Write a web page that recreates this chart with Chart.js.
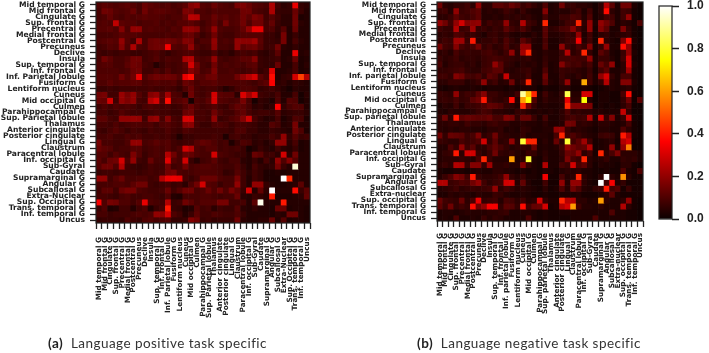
<!DOCTYPE html>
<html><head><meta charset="utf-8">
<script src="https://cdn.jsdelivr.net/npm/chart.js@4/dist/chart.umd.min.js"></script>
<style>
html,body{margin:0;padding:0;background:#fff;width:709px;height:353px;overflow:hidden}
.c{position:absolute;top:0}
canvas{filter:blur(.4px)}
.cap{position:absolute;top:335px;font:13.5px Lato,'Noto Sans',sans-serif;color:#333;white-space:nowrap;letter-spacing:.45px}
.cap b{color:#222}
</style></head><body>
<div class="c" style="left:0;width:330px;height:353px"><canvas id="left"></canvas></div>
<div class="c" style="left:340px;width:310px;height:353px"><canvas id="right"></canvas></div>
<div class="c" style="left:650px;width:59px;height:240px"><canvas id="bar"></canvas></div>
<div class="cap" style="left:48px"><b>(a)</b>&nbsp; Language positive task specific</div>
<div class="cap" style="left:417px"><b>(b)</b>&nbsp; Language negative task specific</div>
<script>
const leftLabels=["Mid temporal G","Mid frontal G","Cingulate G","Sup. frontal G","Precentral G","Medial frontal G","Postcentral G","Precuneus","Declive","Insula","Sup. temporal G","Inf. frontal G","Inf. Parietal lobule","Fusiform G","Lentiform nucleus","Cuneus","Mid occipital G","Culmen","Parahippocampal G","Sup. Parietal lobule","Thalamus","Anterior cingulate","Posterior cingulate","Lingual G","Claustrum","Paracentral lobule","Inf. occipital G","Sub-Gyral","Caudate","Supramarginal G","Angular G","Subcallosal G","Extra-Nuclear","Sup. Occipital G","Trans. temporal G","Inf. temporal G","Uncus"];
const rightLabels=["Mid temporal G","Mid frontal G","Cingulate G","Sup. frontal G","Precentral G","Medial frontal G","Postcentral G","Precuneus","Declive","Insula","Sup. temporal G","Inf. frontal G","Inf. parietal lobule","Fusiform G","Lentiform nucleus","Cuneus","Mid occipital G","Culmen","Parahippocampal G","Sup. parietal lobule","Thalamus","Anterior cingulate","Posterior cingulate","Lingual G","Claustrum","Paracentral lobule","Inf. occipital G","Sub-Gyral","Caudate","Supramarginal G","Angular G","Subcallosal G","Extra-nuclear","Sup. occipital G","Trans. temporal G","Inf. temporal G","Uncus"];
const colorbarTicks=[0,0.2,0.4,0.6,0.8,1];
// values in hundredths, one row per region
const leftValues=[
[10,12,11,10,11,12,11,9,14,12,11,10,11,9,10,12,18,20,11,10,14,11,10,9,16,17,14,11,10,9,24,8,5,6,33,6,5],
[9,15,14,11,10,11,14,9,15,11,12,12,11,10,9,17,16,10,10,9,11,10,10,10,10,15,15,10,9,8,24,7,6,6,14,7,4],
[9,10,13,10,9,11,10,11,12,11,11,10,9,10,10,14,26,25,10,10,14,11,12,10,11,15,12,17,15,8,11,8,5,5,15,3,4],
[10,11,10,27,12,11,11,9,10,10,11,9,10,9,11,11,12,10,8,10,13,9,16,10,11,15,10,15,15,9,13,7,5,5,15,5,4],
[11,11,12,10,18,10,20,20,10,11,10,10,9,11,10,20,20,18,9,11,20,10,9,9,10,13,20,33,33,9,10,6,11,4,14,4,4],
[9,9,9,10,12,11,11,10,9,9,9,9,10,9,10,13,14,10,7,9,15,9,8,8,10,11,11,11,11,7,7,5,16,4,7,4,4],
[10,11,12,11,20,11,8,24,9,14,15,14,15,14,12,18,17,8,10,10,20,9,10,9,20,19,19,22,12,7,7,6,16,4,9,5,4],
[8,9,11,10,18,10,24,10,9,14,15,15,35,11,10,12,20,10,8,9,19,9,9,8,20,12,14,15,11,7,8,15,5,4,6,4,4],
[8,7,8,7,8,8,7,7,8,9,10,8,6,8,9,10,10,8,7,7,10,6,7,5,8,9,8,9,6,5,7,12,4,4,33,4,5],
[9,15,12,9,9,11,15,15,8,9,11,8,10,9,9,24,25,10,9,10,20,9,8,9,10,12,12,18,7,6,7,8,4,5,14,3,4],
[10,11,11,9,9,12,15,14,9,8,4,7,9,8,9,12,30,15,9,8,15,9,10,9,10,9,11,12,7,6,6,14,4,4,9,3,5],
[10,10,10,10,9,10,14,15,8,8,10,8,11,8,9,11,18,14,9,10,17,9,9,10,9,8,9,11,6,8,32,4,4,5,9,3,4],
[11,11,11,10,15,11,15,33,10,13,15,14,15,14,11,33,38,12,11,14,15,10,10,10,15,20,25,30,12,9,38,4,6,7,30,46,25],
[10,10,12,10,11,11,12,12,9,10,11,10,10,11,8,14,12,9,11,11,12,10,10,10,10,10,9,8,10,12,36,5,6,4,6,5,4],
[7,7,8,7,8,8,8,8,8,9,8,8,9,8,6,10,14,9,8,9,9,7,4,6,9,10,10,9,6,7,8,6,4,2,5,4,4],
[15,16,8,8,21,16,20,11,8,18,20,11,22,10,9,4,15,9,8,10,30,12,11,11,5,31,22,30,8,7,6,9,4,4,9,2,5],
[14,13,30,8,20,17,20,9,8,25,30,10,38,10,11,13,2,10,9,12,30,11,10,9,10,16,9,2,6,5,3,10,4,11,10,2,4],
[8,10,8,10,9,10,9,7,9,10,9,8,9,7,8,11,14,10,8,9,11,8,7,10,13,12,9,5,6,4,6,36,6,9,11,10,4],
[9,9,7,8,11,9,8,8,7,8,9,8,8,7,7,14,15,9,9,8,15,10,8,8,11,13,9,7,8,8,7,11,5,6,7,7,5],
[12,12,9,8,20,20,21,20,8,19,21,9,18,9,8,31,30,9,9,8,20,7,8,10,12,18,29,9,6,4,5,9,3,5,10,9,3],
[9,9,8,10,8,9,10,10,9,10,8,10,11,9,8,18,19,9,7,7,10,10,9,7,9,9,8,7,5,5,11,9,4,5,16,4,4],
[8,7,9,11,9,7,9,8,7,9,8,8,10,8,7,10,9,8,8,8,8,8,8,7,10,10,7,7,5,5,7,6,5,4,15,10,3],
[9,9,10,8,8,10,9,10,8,8,9,8,9,7,3,7,7,8,8,8,9,8,3,8,9,7,7,5,6,6,9,7,20,6,11,7,8],
[16,9,9,8,8,10,20,20,9,10,12,10,11,8,7,8,8,11,13,12,10,8,9,3,7,10,9,5,6,4,6,20,20,5,9,3,4],
[14,12,11,8,9,9,11,11,8,9,10,9,11,8,10,30,25,10,9,11,11,8,9,8,9,7,2,4,7,5,4,8,5,4,7,3,4],
[11,11,8,11,9,8,17,11,7,9,10,9,25,15,9,14,13,10,9,9,30,10,9,8,7,7,4,14,12,7,8,5,30,5,15,4,4],
[12,9,14,15,30,10,20,8,7,14,9,9,32,11,9,30,7,4,8,9,12,8,7,9,9,5,4,7,4,9,5,20,10,18,11,4,4],
[11,15,15,10,25,8,7,6,7,9,8,8,15,8,9,15,9,10,11,11,10,9,8,8,10,7,4,9,6,5,6,16,7,4,96,4,4],
[7,8,8,7,8,8,8,7,8,9,8,9,15,16,10,9,9,10,10,10,10,9,6,7,11,8,5,8,6,3,3,4,3,4,4,4,4],
[20,20,8,11,14,9,9,10,10,8,9,25,33,34,33,9,7,9,14,14,14,10,9,9,16,8,4,8,6,3,3,3,100,42,4,4,4],
[9,9,9,10,10,9,12,15,15,8,7,8,9,7,8,5,10,15,30,11,10,7,9,9,20,8,4,20,20,6,4,3,3,4,5,12,4],
[8,12,12,8,14,16,16,10,9,8,8,9,14,8,11,15,15,9,10,14,10,15,10,16,12,7,30,4,13,5,100,4,4,4,38,7,12],
[9,9,8,7,9,10,8,8,9,9,8,7,10,4,3,9,9,9,10,10,9,8,9,9,14,5,4,7,6,4,40,3,3,3,4,5,13],
[35,10,16,15,10,10,8,11,33,10,9,8,25,7,8,15,12,9,11,11,11,16,16,8,8,9,4,12,98,4,4,4,40,4,4,4,4],
[7,10,3,4,8,8,4,8,10,3,7,9,40,7,6,3,4,11,8,9,5,8,7,7,11,5,4,6,4,4,3,14,14,3,4,4,3],
[9,9,7,8,8,8,9,10,9,10,20,19,30,10,8,4,7,12,8,8,10,9,8,8,10,7,4,4,4,4,3,5,4,15,15,4,3],
[6,7,7,7,6,10,8,7,10,11,9,10,11,6,6,7,18,15,7,8,6,7,7,7,15,5,4,4,5,5,14,4,11,3,4,4,3]
];
const rightValues=[
[15,5,4,6,6,8,5,20,5,5,12,12,10,14,11,7,9,6,4,10,3,4,15,6,7,5,5,4,2,5,25,12,3,15,15,3,1],
[7,8,4,20,7,8,10,12,4,5,4,5,8,6,4,7,4,3,3,18,3,4,4,4,6,8,3,8,2,5,38,5,3,8,7,2,1],
[5,5,7,12,8,7,9,12,4,4,5,4,6,5,6,5,6,4,3,9,4,4,7,7,10,9,4,10,2,4,8,8,3,8,20,2,1],
[20,15,8,20,30,18,19,20,5,8,6,7,20,6,5,25,8,6,3,42,3,3,5,8,8,42,5,20,3,20,15,10,3,5,4,2,10],
[8,6,6,25,7,8,22,6,7,5,7,6,12,8,6,10,6,3,3,12,5,6,9,10,18,9,4,20,2,18,12,3,3,17,6,2,1],
[5,6,5,10,9,6,7,5,3,6,7,5,7,4,3,4,3,5,3,11,4,4,5,7,6,20,3,8,2,5,6,3,4,5,6,2,1],
[6,8,7,22,22,7,40,5,6,6,8,5,10,6,4,12,8,4,3,9,3,3,5,7,8,35,4,8,2,42,5,3,2,17,38,3,1],
[15,8,7,18,9,7,9,15,6,8,5,6,10,5,6,20,20,3,3,10,3,3,20,7,5,9,6,18,2,6,20,3,3,38,20,2,1],
[5,6,4,9,6,7,6,6,8,9,7,5,8,20,5,22,42,4,3,5,4,4,7,25,5,7,42,6,2,12,8,3,2,7,20,3,1],
[7,5,6,8,5,6,6,5,7,8,9,8,7,6,5,5,6,4,3,6,4,4,8,8,9,8,8,20,3,7,7,4,2,8,30,2,1],
[9,4,6,7,7,5,6,4,7,8,20,12,6,5,3,5,4,5,3,7,3,4,18,10,8,9,6,9,3,14,9,20,2,5,30,3,1],
[6,6,7,8,9,6,5,5,8,9,12,12,5,4,5,6,7,4,3,10,3,4,7,6,6,5,4,7,2,8,12,3,3,5,22,2,1],
[8,8,6,18,15,9,8,10,6,12,10,5,28,5,5,5,8,3,3,15,3,3,7,5,4,6,4,8,3,20,30,6,3,9,9,2,1],
[5,5,7,7,7,4,5,7,20,6,8,4,5,15,4,7,42,4,3,12,4,3,6,20,3,3,62,8,3,6,25,4,3,18,18,3,1],
[3,2,3,4,3,3,4,3,2,3,3,3,2,3,2,3,3,3,1,3,2,2,4,4,2,2,3,2,1,2,3,4,3,4,5,2,1],
[7,6,5,20,6,8,7,12,18,7,7,5,4,4,8,90,65,42,3,8,4,3,6,82,4,4,30,30,1,3,3,2,2,9,38,1,1],
[6,7,6,9,6,7,12,15,40,8,6,5,7,38,4,60,75,10,3,6,4,4,5,33,5,5,75,4,1,3,3,2,2,6,15,1,12],
[3,5,4,8,4,7,7,8,10,13,12,10,6,5,3,42,15,6,3,4,3,3,4,42,18,18,18,17,1,3,2,3,2,5,9,1,1],
[4,3,5,4,4,4,5,7,9,8,5,5,4,3,6,6,4,3,4,3,4,3,5,10,5,6,5,5,3,4,3,3,3,28,6,1,1],
[6,15,5,40,12,14,13,12,12,14,9,9,18,16,6,14,14,7,3,9,3,3,5,8,9,7,8,25,3,30,6,18,3,7,30,2,1],
[5,5,6,6,5,8,6,6,5,7,8,6,6,4,4,5,4,4,3,5,3,3,4,16,15,5,6,5,3,5,5,4,3,4,9,2,1],
[5,4,5,4,5,5,4,4,3,5,5,6,3,4,3,6,5,3,3,4,4,20,20,7,4,5,4,3,2,4,4,3,3,10,5,2,1],
[15,6,14,13,12,7,9,17,5,7,15,6,5,4,4,6,3,4,4,4,3,9,42,8,10,7,5,4,3,7,8,7,3,40,25,2,1],
[7,6,5,5,9,7,8,10,30,6,12,5,6,20,5,80,42,42,3,5,3,14,5,80,8,12,22,8,2,3,4,5,2,25,30,1,1],
[4,4,10,6,20,8,12,5,5,9,13,9,6,4,5,6,5,14,3,4,3,4,8,20,15,12,13,25,2,3,4,20,3,20,55,1,1],
[4,6,7,40,5,30,30,7,4,7,15,6,5,6,4,4,7,6,3,5,3,3,6,14,13,20,5,8,2,42,5,9,17,5,5,5,3],
[4,5,5,5,6,5,4,9,42,7,4,4,4,60,3,5,80,3,2,6,3,3,5,17,9,7,42,5,3,4,6,3,3,6,5,6,3],
[5,7,5,25,24,7,18,18,6,22,5,5,6,4,4,18,6,3,2,25,3,3,9,7,30,9,12,5,2,4,3,3,2,5,5,2,1],
[3,2,2,3,3,2,3,4,3,3,5,5,4,3,2,3,2,3,2,4,3,2,4,5,4,5,3,3,2,2,3,2,2,10,3,2,10],
[4,7,10,18,15,8,40,7,5,5,6,8,20,6,4,7,3,3,2,35,2,2,9,4,5,42,5,3,2,5,100,5,3,58,5,2,2],
[25,25,7,8,10,9,15,20,8,5,7,8,30,30,4,13,4,2,2,8,2,2,20,4,20,20,5,3,2,100,8,35,3,6,2,2,2],
[4,5,6,8,5,6,7,6,7,8,20,5,8,6,4,5,4,3,2,5,2,3,10,4,15,10,4,3,6,7,40,8,10,2,7,2,2],
[3,3,5,4,5,4,3,5,4,4,7,6,4,3,3,4,3,2,2,3,2,2,3,3,3,4,2,2,2,3,5,12,3,2,2,2,2],
[14,8,7,6,14,5,9,33,6,7,8,4,9,8,5,8,4,5,30,6,3,3,42,25,25,5,5,3,4,60,5,3,3,5,20,2,1],
[12,7,15,6,8,6,38,15,20,35,35,6,12,11,6,38,8,13,14,30,2,3,25,30,60,8,4,4,3,5,3,3,3,25,5,2,1],
[3,4,4,3,4,5,4,4,4,5,5,6,7,3,3,4,4,3,2,3,2,2,3,3,3,3,3,3,3,3,3,10,3,3,2,2,1],
[3,4,3,10,3,3,4,3,7,4,6,5,3,3,3,3,10,3,2,3,2,2,2,2,3,3,3,3,10,3,3,3,3,3,2,2,1]
];

function hot(v){
  const c=x=>Math.round(255*Math.max(0,Math.min(1,x)));
  return `rgb(${c(0.0416+v/0.365*0.9584)},${c((v-0.365)/0.381)},${c((v-0.746)/0.254)})`;
}
const frame={id:'frame',afterDatasetsDraw(ch){const a=ch.chartArea,x=ch.ctx;x.save();x.strokeStyle='#222';x.lineWidth=1.2;x.strokeRect(a.left,a.top,a.width,a.height);x.restore();}};
const boldFont=size=>({family:"'DejaVu Sans'",size,weight:'bold'});
function noPad(s){s.paddingTop=0;s.paddingBottom=0;s.paddingLeft=0;s.paddingRight=0;}

function heatmap(id,labels,values,g){
  const n=labels.length;
  new Chart(document.getElementById(id),{
    type:'bar',
    data:{labels,datasets:values.map((row,i)=>({
      label:labels[i],
      data:row.map(()=>1),
      backgroundColor:row.map(v=>hot(v/100)),
      barPercentage:1,categoryPercentage:1,borderWidth:0
    }))},
    options:{
      responsive:true,maintainAspectRatio:false,animation:false,
      layout:{padding:{top:g.top,left:g.left,right:g.right,bottom:0}},
      plugins:{legend:{display:false},tooltip:{enabled:false}},
      scales:{
        x:{stacked:true,
          grid:{display:true,drawOnChartArea:false,drawTicks:true,tickLength:6,tickWidth:1.3,tickColor:'#222'},
          border:{display:false},
          afterFit(s){s.height=g.xh;noPad(s);},
          ticks:{autoSkip:false,maxRotation:90,minRotation:90,padding:g.xpad,color:'#222',font:boldFont(g.xsize)}},
        y:{stacked:true,reverse:true,min:0,max:n,
          grid:{display:true,drawOnChartArea:false,drawTicks:true,tickLength:6,tickWidth:1.3,tickColor:'#222'},
          border:{display:false},
          afterFit(s){s.width=g.yw;noPad(s);},
          afterBuildTicks(s){s.ticks=labels.map((_,i)=>({value:i+0.5}));},
          ticks:{autoSkip:false,padding:g.ypad,color:'#222',font:boldFont(g.ysize),
            callback:(v,i)=>labels[i]}}
      }
    },
    plugins:[frame]
  });
}
heatmap('left',leftLabels,leftValues,{top:2,left:0,right:20,xh:130,yw:96,xpad:8,ypad:5,xsize:7.3,ysize:7.6});
heatmap('right',rightLabels,rightValues,{top:2,left:0,right:7,xh:132,yw:97,xpad:6,ypad:5,xsize:7.3,ysize:7.4});

new Chart(document.getElementById('bar'),{
  type:'bar',
  data:{labels:[''],datasets:[{
    data:[[0,1]],barPercentage:1,categoryPercentage:1,borderWidth:0,
    backgroundColor(c){
      const a=c.chart.chartArea; if(!a) return '#000';
      const gr=c.chart.ctx.createLinearGradient(0,a.bottom,0,a.top);
      [0,0.1,0.2,0.3,0.365,0.5,0.6,0.746,0.85,1].forEach(s=>gr.addColorStop(s,hot(s)));
      return gr;
    }}]},
  options:{
    responsive:true,maintainAspectRatio:false,animation:false,
    layout:{padding:{top:6,left:9,right:0,bottom:21}},
    plugins:{legend:{display:false},tooltip:{enabled:false}},
    scales:{
      x:{display:false},
      y:{position:'right',min:0,max:1,
        grid:{display:true,drawOnChartArea:false,tickLength:7,tickWidth:1.5,tickColor:'#222'},
        border:{display:false},
        afterFit(s){s.width=37;noPad(s);},
        afterBuildTicks(s){s.ticks=colorbarTicks.map(value=>({value}));},
        ticks:{padding:8,color:'#222',font:{family:"'Liberation Sans'",size:12,weight:'bold'},callback:v=>v.toFixed(1)}}
    }
  },
  plugins:[frame]
});
</script>
</body></html>
